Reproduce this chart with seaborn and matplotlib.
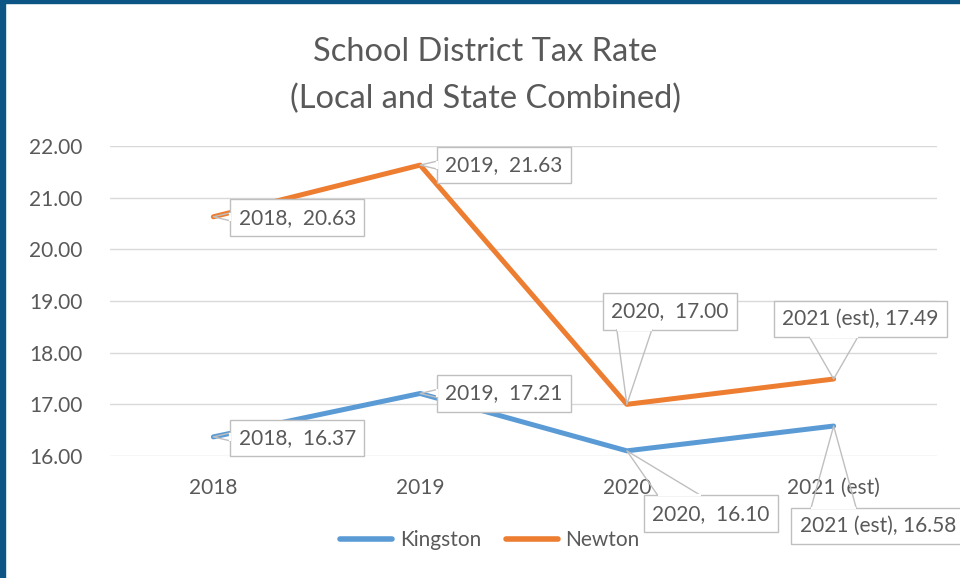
import matplotlib
matplotlib.use("Agg")
import matplotlib.pyplot as plt
from matplotlib.patches import Rectangle
from matplotlib.lines import Line2D
from matplotlib.transforms import IdentityTransform
import seaborn as sns
import pandas as pd

# ---- data ----
years = ["2018", "2019", "2020", "2021 (est)"]
kingston = [16.37, 17.21, 16.10, 16.58]
newton = [20.63, 21.63, 17.00, 17.49]
series_names = ["Kingston", "Newton"]
title_lines = ["School District Tax Rate", "(Local and State Combined)"]

# ---- layout / style (not data) ----
colors = {"Kingston": "#5b9bd5", "Newton": "#ed7d31"}
# callout offsets (pixels, from data point to box centre) and pointer widths (px)
callout_offsets = {
    "Newton": [(84, -1), (84, 0), (43, 93), (27, 60)],
    "Kingston": [(84, -1), (84, 0), (84, -63), (44, -100)],
}
pointer_widths = {
    "Newton": [8, 8, 35, 48],
    "Kingston": [8, 8, 43, 45],
}

rows = []
for name, vals in zip(series_names, [kingston, newton]):
    for i, (y, v) in enumerate(zip(years, vals)):
        rows.append({"Year": y, "pos": i, "Rate": v, "District": name})
df = pd.DataFrame(rows)

sns.set_theme(style="white")
plt.rcParams["font.family"] = ["Lato", "DejaVu Sans"]
plt.rcParams["ytick.major.pad"] = 20
plt.rcParams["xtick.major.pad"] = 16
TXT = "#595959"
GRID = "#d9d9d9"
EDGE = "#bfbfbf"

fig = plt.figure(figsize=(9.6, 5.78), dpi=100)
fig.patch.set_facecolor("white")
ax = fig.add_axes([110 / 960, 1 - 456 / 578, 827 / 960, 310 / 578])

sns.lineplot(data=df, x="pos", y="Rate", hue="District", palette=colors,
             hue_order=series_names, linewidth=3.6, ax=ax, legend=True,
             sort=False, zorder=3)

ax.set_xlim(-0.5, 3.5)
ax.set_ylim(16, 22)
yt = [16, 17, 18, 19, 20, 21, 22]
ax.set_yticks(yt)
ax.set_yticklabels([f"{t:.2f}" for t in yt])
ax.set_xticks(range(len(years)))
ax.set_xticklabels(years)
ax.set_xlabel("")
ax.set_ylabel("")
for s in ax.spines.values():
    s.set_visible(False)
ax.grid(axis="y", color=GRID, linewidth=1)
ax.grid(axis="x", visible=False)
ax.set_axisbelow(True)
ax.tick_params(axis="y", length=0, pad=20, labelsize=15, labelcolor=TXT)
ax.tick_params(axis="x", length=0, pad=16, labelsize=15, labelcolor=TXT)

# callouts (boxes)
anns = []
for name, vals in zip(series_names, [kingston, newton]):
    for i, (y, v) in enumerate(zip(years, vals)):
        sep = ", " if "(" in y else ",  "
        a = ax.annotate(f"{y}{sep}{v:.2f}", xy=(i, v),
                        xytext=callout_offsets[name][i], textcoords="offset pixels",
                        ha="center", va="center", fontsize=15, color=TXT,
                        annotation_clip=False, zorder=5,
                        bbox=dict(boxstyle="square,pad=0.4", fc="white",
                                  ec=EDGE, lw=1))
        anns.append((a, pointer_widths[name][i]))

# legend
handles, labels = ax.get_legend_handles_labels()
for h in handles:
    h.set_linewidth(4)
ax.legend(handles, labels, loc="center", bbox_to_anchor=(490 / 960, 1 - 540 / 578),
          bbox_transform=fig.transFigure, ncol=2, frameon=False, fontsize=15,
          labelcolor=TXT, handlelength=2.5, handletextpad=0.35, columnspacing=1.2)

# title
fig.text(485 / 960, 1 - 52 / 578, title_lines[0], ha="center", va="center",
         fontsize=23.5, color=TXT)
fig.text(485 / 960, 1 - 99 / 578, title_lines[1], ha="center", va="center",
         fontsize=23.5, color=TXT)

# callout pointers (computed from rendered box extents)
fig.canvas.draw()
renderer = fig.canvas.get_renderer()
M = 14
for a, w in anns:
    bb = a.get_bbox_patch().get_window_extent(renderer)
    px, py = ax.transData.transform(a.xy)
    dx_out = max(bb.x0 - px, px - bb.x1, 0)
    dy_out = max(bb.y0 - py, py - bb.y1, 0)
    hw = w / 2
    if dx_out > dy_out:
        ex = bb.x0 if px < bb.x0 else bb.x1
        lo, hi = bb.y0 + hw + 3, bb.y1 - hw - 3
        c = min(max(py, lo), hi)
        b1, b2 = (ex, c - hw), (ex, c + hw)
    else:
        ey = bb.y0 if py < bb.y0 else bb.y1
        lo, hi = bb.x0 + hw + M, bb.x1 - hw - M
        c = min(max(px, lo), hi)
        b1, b2 = (c - hw, ey), (c + hw, ey)
    fig.add_artist(Line2D([b1[0], px, b2[0]], [b1[1], py, b2[1]],
                          transform=IdentityTransform(), color=EDGE, lw=1,
                          zorder=6))
    fig.add_artist(Line2D([b1[0], b2[0]], [b1[1], b2[1]],
                          transform=IdentityTransform(), color="white", lw=1.6,
                          zorder=6.1, solid_capstyle="butt"))

# frame border (left and top)
BORDER = "#0d5585"
fig.add_artist(Rectangle((0, 0), 5 / 960, 1, transform=fig.transFigure,
                         color=BORDER, zorder=10))
fig.add_artist(Rectangle((0, 1 - 3 / 578), 1, 3 / 578, transform=fig.transFigure,
                         color=BORDER, zorder=10))

fig.savefig("out.png", dpi=100)
